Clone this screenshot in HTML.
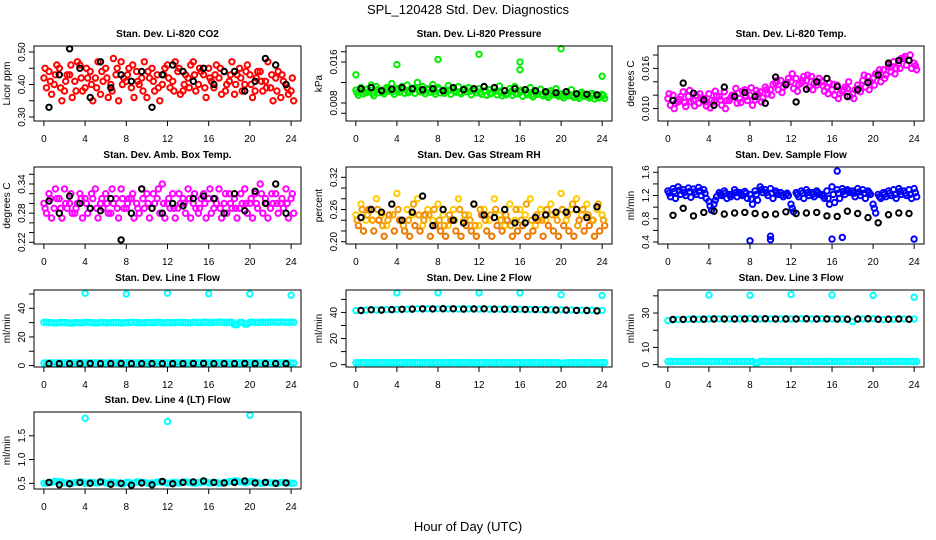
<!DOCTYPE html>
<html><head><meta charset="utf-8">
<style>
html,body{margin:0;padding:0;background:#fff;}
svg{display:block;font-family:"Liberation Sans",Arial,sans-serif;}
.tk{font-size:10px;fill:#000;}
.ti{font-size:10px;font-weight:bold;fill:#000;}
</style></head>
<body>
<svg id="chart" width="936" height="540" viewBox="0 0 936 540">
<text x="468" y="14" text-anchor="middle" font-size="13">SPL_120428  Std. Dev. Diagnostics</text>
<text x="468" y="531" text-anchor="middle" font-size="13">Hour of Day (UTC)</text>
</svg>
<script>
// ---- data ----
const xTicks = [0,4,8,12,16,20,24];
const co2A = [0.42,0.44,0.40,0.45,0.38,0.43,0.41,0.46,0.39,0.44,0.42,0.37,0.45,0.40,0.43,0.47,0.41,0.39,0.44,0.42,0.36,0.45,0.43,0.40,0.46,0.41,0.44,0.38,0.42,0.47,0.40,0.43,0.45,0.39,0.42,0.44,0.41,0.37,0.45,0.40,0.43,0.38,0.44,0.41,0.39,0.42,0.36,0.40,0.38];
const co2B = [0.39,0.37,0.46,0.35,0.43,0.36,0.47,0.38,0.42,0.35,0.47,0.41,0.36,0.48,0.35,0.42,0.45,0.36,0.40,0.47,0.42,0.38,0.35,0.45,0.39,0.47,0.37,0.43,0.46,0.38,0.44,0.36,0.41,0.46,0.37,0.40,0.47,0.43,0.38,0.46,0.36,0.44,0.38,0.47,0.35,0.44,0.41,0.37,0.35];
const co2C = [0.45,0.41,0.43,0.39,0.41,0.46,0.38,0.42,0.45,0.40,0.39,0.44,0.42,0.38,0.45,0.40,0.43,0.46,0.41,0.38,0.44,0.41,0.39,0.43,0.42,0.38,0.45,0.40,0.39,0.43,0.45,0.39,0.42,0.43,0.45,0.38,0.43,0.40,0.42,0.44,0.40,0.42,0.41,0.39,0.43,0.38,0.43,0.39,0.42];
const co2K = [0.33,0.43,0.51,0.45,0.36,0.47,0.39,0.43,0.41,0.44,0.33,0.43,0.46,0.44,0.41,0.45,0.40,0.44,0.44,0.38,0.41,0.48,0.46,0.40];
const presA = [0.0105,0.011,0.010,0.0115,0.0112,0.0105,0.011,0.0118,0.0108,0.0112,0.0115,0.0106,0.012,0.0112,0.0108,0.0116,0.011,0.0105,0.0114,0.0108,0.0112,0.0106,0.011,0.0104,0.0108,0.0112,0.0106,0.0109,0.0113,0.0104,0.0108,0.0112,0.0101,0.0106,0.011,0.0103,0.0107,0.0099,0.0104,0.0108,0.0098,0.0102,0.0106,0.0097,0.0101,0.0095,0.0099,0.0094,0.0097];
const presB = [0.0095,0.0098,0.0102,0.0094,0.0100,0.0098,0.0103,0.0097,0.0101,0.0099,0.0104,0.0099,0.0102,0.0098,0.0101,0.0097,0.0100,0.0103,0.0097,0.0101,0.0098,0.0102,0.0096,0.0100,0.0097,0.0095,0.0100,0.0096,0.0094,0.0099,0.0095,0.0098,0.0093,0.0096,0.0092,0.0097,0.0094,0.0091,0.0096,0.0093,0.0090,0.0094,0.0091,0.0089,0.0093,0.0090,0.0088,0.0091,0.0089];
const presC = [0.0100,0.0104,0.0107,0.0099,0.0106,0.0102,0.0107,0.0102,0.0105,0.0107,0.0100,0.0109,0.0105,0.0103,0.0106,0.0102,0.0107,0.0099,0.0105,0.0104,0.0101,0.0108,0.0103,0.0105,0.0101,0.0104,0.0098,0.0103,0.0100,0.0096,0.0102,0.0098,0.0105,0.0100,0.0096,0.0101,0.0097,0.0095,0.0100,0.0096,0.0094,0.0098,0.0095,0.0093,0.0097,0.0092,0.0095,0.0090,0.0094];
const presOutX = [0,4,8,12,16,16,20,24];
const presOutY = [0.0135,0.0155,0.0165,0.0175,0.0145,0.0160,0.0186,0.0132];
const presK = [0.0108,0.0110,0.0104,0.0107,0.0110,0.0108,0.0106,0.0108,0.0104,0.0110,0.0106,0.0108,0.0112,0.0110,0.0104,0.0108,0.0106,0.0104,0.0102,0.0100,0.0102,0.0098,0.0097,0.0096];
const tempA = [0.0115,0.012,0.0110,0.0125,0.0118,0.0112,0.0108,0.0115,0.0122,0.0110,0.0118,0.0125,0.0112,0.0120,0.0115,0.0128,0.0120,0.0113,0.0125,0.0132,0.0128,0.0138,0.0142,0.0135,0.0140,0.0145,0.0138,0.0142,0.0148,0.0135,0.0140,0.0132,0.0128,0.0135,0.0125,0.0130,0.0122,0.0135,0.0142,0.0148,0.0145,0.0152,0.0158,0.0165,0.0170,0.0168,0.0175,0.0172,0.0168];
const tempB = [0.0105,0.0108,0.0118,0.0103,0.0110,0.0120,0.0116,0.0104,0.0112,0.0119,0.0105,0.0112,0.0120,0.0108,0.0126,0.0112,0.0105,0.0122,0.0116,0.0122,0.0136,0.0128,0.0132,0.0145,0.0130,0.0136,0.0148,0.0132,0.0138,0.0145,0.0126,0.0138,0.0120,0.0122,0.0132,0.0118,0.0128,0.0125,0.0132,0.0140,0.0152,0.0140,0.0150,0.0155,0.0160,0.0175,0.0165,0.0160,0.0158];
const tempC = [0.0122,0.0100,0.0114,0.0109,0.0127,0.0104,0.0122,0.0110,0.0101,0.0126,0.0113,0.0100,0.0116,0.0130,0.0109,0.0118,0.0131,0.0127,0.0110,0.0128,0.0120,0.0142,0.0124,0.0139,0.0152,0.0126,0.0142,0.0150,0.0128,0.0140,0.0134,0.0122,0.0136,0.0115,0.0128,0.0140,0.0115,0.0130,0.0150,0.0128,0.0135,0.0158,0.0145,0.0162,0.0152,0.0160,0.0178,0.0180,0.0164];
const tempK = [0.0112,0.0138,0.0123,0.0113,0.0105,0.0132,0.0118,0.0124,0.0118,0.0108,0.0147,0.0136,0.0110,0.0129,0.0140,0.0145,0.0133,0.0118,0.0128,0.0139,0.0150,0.0168,0.0172,0.0172];
const ambA = [0.30,0.32,0.29,0.31,0.33,0.30,0.28,0.32,0.31,0.29,0.33,0.30,0.32,0.28,0.31,0.33,0.29,0.31,0.30,0.33,0.32,0.29,0.31,0.34,0.30,0.32,0.29,0.31,0.33,0.30,0.28,0.32,0.31,0.29,0.33,0.30,0.32,0.31,0.29,0.33,0.30,0.32,0.34,0.31,0.29,0.32,0.30,0.33,0.31];
const ambB = [0.28,0.27,0.31,0.27,0.29,0.28,0.30,0.27,0.28,0.31,0.27,0.29,0.28,0.30,0.27,0.29,0.31,0.27,0.28,0.29,0.27,0.30,0.28,0.27,0.29,0.27,0.30,0.28,0.27,0.29,0.31,0.27,0.28,0.30,0.27,0.28,0.29,0.27,0.30,0.28,0.27,0.29,0.28,0.27,0.30,0.28,0.29,0.27,0.28];
const ambC = [0.29,0.31,0.33,0.29,0.30,0.32,0.29,0.31,0.30,0.32,0.29,0.31,0.30,0.33,0.29,0.31,0.30,0.32,0.29,0.31,0.30,0.32,0.33,0.30,0.31,0.29,0.32,0.30,0.31,0.32,0.29,0.30,0.33,0.31,0.29,0.32,0.30,0.29,0.32,0.30,0.31,0.30,0.32,0.30,0.32,0.30,0.31,0.30,0.32];
const ambK = [0.305,0.28,0.315,0.30,0.29,0.285,0.31,0.225,0.28,0.33,0.29,0.28,0.30,0.295,0.31,0.315,0.31,0.28,0.32,0.285,0.325,0.30,0.34,0.28];
const rhA = [0.25,0.27,0.24,0.26,0.28,0.25,0.23,0.27,0.29,0.24,0.26,0.25,0.28,0.23,0.26,0.24,0.27,0.25,0.23,0.26,0.28,0.24,0.25,0.27,0.23,0.26,0.24,0.28,0.25,0.23,0.27,0.24,0.26,0.25,0.28,0.23,0.26,0.24,0.27,0.25,0.29,0.24,0.26,0.28,0.25,0.27,0.24,0.26,0.25];
const rhB = [0.23,0.22,0.26,0.22,0.24,0.21,0.25,0.22,0.24,0.22,0.21,0.23,0.22,0.25,0.21,0.23,0.22,0.21,0.24,0.22,0.21,0.23,0.22,0.21,0.25,0.22,0.21,0.23,0.22,0.24,0.21,0.22,0.23,0.21,0.22,0.24,0.21,0.23,0.22,0.21,0.23,0.22,0.21,0.24,0.22,0.23,0.21,0.22,0.23];
const rhC = [0.24,0.26,0.25,0.24,0.26,0.23,0.24,0.25,0.26,0.23,0.24,0.27,0.25,0.24,0.25,0.26,0.24,0.23,0.25,0.24,0.26,0.25,0.24,0.23,0.26,0.24,0.25,0.26,0.24,0.25,0.23,0.26,0.24,0.27,0.24,0.25,0.24,0.26,0.25,0.24,0.26,0.25,0.27,0.23,0.26,0.25,0.24,0.27,0.24];
const rhK = [0.245,0.26,0.255,0.27,0.24,0.255,0.285,0.23,0.26,0.24,0.235,0.27,0.25,0.245,0.26,0.235,0.235,0.245,0.25,0.255,0.255,0.26,0.245,0.265];
const flowA = [1.28,1.32,1.35,1.30,1.33,1.31,1.34,1.30,1.10,1.05,1.25,1.28,1.22,1.30,1.25,1.27,1.22,1.28,1.35,1.30,1.32,1.28,1.25,1.22,1.05,1.25,1.28,1.30,1.25,1.28,1.22,1.28,1.35,1.30,1.32,1.30,1.28,1.32,1.30,1.28,1.05,1.22,1.25,1.28,1.30,1.32,1.28,1.30,1.32];
const flowB = [1.18,1.15,1.22,1.20,1.17,1.22,1.20,1.15,0.95,1.18,1.20,1.15,1.22,1.18,1.20,1.15,1.05,1.12,1.25,1.20,1.15,1.22,1.18,1.20,0.92,1.18,1.15,1.20,1.18,1.22,1.15,1.05,1.08,1.15,1.22,1.25,1.18,1.20,1.15,1.22,0.90,1.15,1.18,1.20,1.15,1.22,1.20,1.15,1.18];
const flowC = [1.24,1.27,1.29,1.25,1.27,1.26,1.28,1.24,1.02,1.12,1.22,1.24,1.18,1.25,1.22,1.24,1.14,1.22,1.30,1.25,1.24,1.25,1.21,1.24,0.98,1.22,1.24,1.25,1.22,1.25,1.19,1.15,1.22,1.24,1.27,1.28,1.24,1.26,1.24,1.25,0.98,1.18,1.22,1.24,1.22,1.27,1.24,1.22,1.25];
const flowOutX = [8,10,10,16,16.5,17,24];
const flowOutY = [0.42,0.50,0.44,0.45,1.62,0.48,0.45];
const flowK = [0.86,0.98,0.85,0.91,0.93,0.88,0.90,0.91,0.89,0.87,0.88,0.92,0.89,0.90,0.91,0.85,0.84,0.93,0.89,0.82,0.73,0.87,0.90,0.89];
const l1A = [30.2,30.0,29.8,30.1,30.0,29.7,30.0,29.9,30.2,30.0,29.8,30.1,29.9,30.0,30.1,29.8,30.0,30.2,30.0,29.9,30.1,30.0,30.2,29.9,30.1,30.0,30.2,30.1,29.9,30.2,30.0,30.3,30.1,30.2,30.4,30.1,30.3,28.5,30.2,29.0,30.4,30.1,30.3,30.2,30.5,30.3,30.4,30.2,30.3];
const l1B = [1.8,1.9,1.8,1.8,1.9,1.8,1.8,1.9,1.8,1.8,1.9,1.8,1.8,1.9,1.8,1.8,1.9,1.8,1.8,1.9,1.8,1.8,1.9,1.8,1.8,1.9,1.8,1.8,1.9,1.8,1.8,1.9,1.8,1.8,1.9,1.8,1.8,1.9,1.8,1.8,1.9,1.8,1.8,1.9,1.8,1.8,1.9,1.8,1.8];
const l1K = [1.4,1.4,1.4,1.4,1.5,1.4,1.4,1.5,1.4,1.4,1.4,1.4,1.4,1.4,1.5,1.5,1.4,1.4,1.4,1.5,1.4,1.4,1.4,1.4];
const l1OutX = [4,8,12,16,20,24];
const l1OutY = [50.5,50.0,50.5,50.2,50.0,49.2];
const l2A = [41.5,41.6,41.8,42.0,41.9,42.1,42.2,42.0,42.3,42.5,42.4,42.6,42.8,42.6,42.9,42.7,42.8,42.9,42.7,42.8,42.6,42.9,42.7,42.8,42.6,42.7,42.5,42.6,42.4,42.6,42.5,42.3,42.4,42.2,42.3,42.1,42.2,42.0,42.1,41.9,42.0,41.8,41.9,41.7,41.8,41.6,41.7,41.5,41.5];
const l2B = [1.5,1.6,1.5,1.5,1.6,1.5,1.5,1.6,1.5,1.5,1.6,1.5,1.5,1.6,1.5,1.5,1.6,1.5,1.5,1.6,1.5,1.5,1.6,1.5,1.5,1.6,1.5,1.5,1.6,1.5,1.5,1.6,1.5,1.5,1.6,1.5,1.5,1.6,1.5,1.5,1.0,1.5,1.6,1.5,1.5,1.6,1.5,1.5,1.6];
const l2K = [41.5,42.0,41.8,42.2,42.4,42.6,42.8,42.7,42.9,42.8,42.6,42.7,42.8,42.6,42.5,42.4,42.3,42.3,42.0,41.9,41.8,41.6,41.5,41.2];
const l2OutX = [4,8,12,16,20,24];
const l2OutY = [55.0,55.0,55.0,55.0,53.5,53.0];
const l3A = [25.6,26.0,26.2,26.3,26.4,26.5,26.4,26.6,26.5,26.7,26.6,26.5,26.6,26.7,26.5,26.6,26.8,26.6,26.5,26.7,26.6,26.5,26.6,26.7,26.5,26.6,26.7,26.6,26.5,26.6,26.7,26.5,26.6,26.4,26.5,26.6,25.0,26.4,26.6,26.5,26.7,26.4,26.2,26.5,26.4,26.6,26.5,26.4,26.5];
const l3B = [1.8,1.8,1.8,1.8,1.8,1.8,1.8,1.8,1.8,1.8,1.8,1.8,1.8,1.8,1.8,1.8,1.8,1.0,1.8,1.8,1.8,1.8,1.8,1.8,1.8,1.8,1.8,1.8,1.8,1.8,1.8,1.8,1.8,1.8,1.8,1.8,1.8,1.8,1.8,1.8,1.8,1.8,1.8,1.8,1.8,1.8,1.8,1.8,1.8];
const l3K = [26.3,26.3,26.4,26.4,26.5,26.6,26.5,26.6,26.5,26.7,26.6,26.5,26.6,26.7,26.5,26.6,26.5,26.4,26.5,26.7,26.4,26.4,26.5,26.4];
const l3OutX = [4,8,12,16,20,24];
const l3OutY = [40.5,40.3,40.8,40.5,40.2,39.2];
const l4A = [0.50,0.52,0.54,0.53,0.51,0.50,0.52,0.53,0.50,0.52,0.51,0.53,0.50,0.52,0.51,0.49,0.52,0.50,0.53,0.52,0.50,0.51,0.53,0.52,0.50,0.52,0.51,0.53,0.52,0.50,0.52,0.53,0.51,0.52,0.50,0.52,0.54,0.55,0.53,0.52,0.54,0.52,0.50,0.52,0.51,0.50,0.52,0.51,0.50];
const l4K = [0.52,0.47,0.49,0.52,0.50,0.53,0.48,0.50,0.46,0.51,0.47,0.54,0.49,0.52,0.53,0.55,0.52,0.51,0.52,0.55,0.51,0.52,0.50,0.51];
const l4OutX = [4,12,20];
const l4OutY = [1.87,1.80,1.93];

// ---- layout ----
const NS = 'http://www.w3.org/2000/svg';
const svg = document.getElementById('chart');
const cols = [[34,301],[346,612],[658,924]];
const rows = [[46,121],[167,244],[290,367],[412,489]];
function mk(tag, attrs, parent){
  const e = document.createElementNS(NS, tag);
  for (const k in attrs) e.setAttribute(k, attrs[k]);
  (parent||svg).appendChild(e);
  return e;
}
const panels = [
 {slug:'co2',title:'Stan. Dev. Li-820 CO2',ylab:'Licor ppm',c:0,r:0,lo:0.2877,hi:0.5185,ticks:[0.30,0.35,0.40,0.45,0.50],labs:[0.30,0.40,0.50],dec:2,
  series:[{x0:0,dx:0.5,y:co2A,col:'#ff0000'},{x0:0.25,dx:0.5,y:co2B,col:'#ff0000'},{x0:0.12,dx:0.5,y:co2C,col:'#ff0000'},{x0:0.5,dx:1,y:co2K,col:'#000'}]},
 {slug:'pressure',title:'Stan. Dev. Li-820 Pressure',ylab:'kPa',c:1,r:0,lo:0.00449,hi:0.01912,ticks:[0.006,0.008,0.012,0.016,0.018],labs:[0.008,0.016],dec:3,
  series:[{x0:0,dx:0.5,y:presA,col:'#00ee00'},{x0:0.25,dx:0.5,y:presB,col:'#00ee00'},{x0:0.12,dx:0.5,y:presC,col:'#00ee00'},{xs:presOutX,y:presOutY,col:'#00ee00'},{x0:0.5,dx:1,y:presK,col:'#000'}]},
 {slug:'temp',title:'Stan. Dev. Li-820 Temp.',ylab:'degrees C',c:2,r:0,lo:0.00814,hi:0.01935,ticks:[0.010,0.012,0.014,0.016,0.018],labs:[0.010,0.016],dec:3,
  series:[{x0:0,dx:0.5,y:tempA,col:'#ff00ff'},{x0:0.25,dx:0.5,y:tempB,col:'#ff00ff'},{x0:0.12,dx:0.5,y:tempC,col:'#ff00ff'},{x0:0.5,dx:1,y:tempK,col:'#000'}]},
 {slug:'amb-box',title:'Stan. Dev. Amb. Box Temp.',ylab:'degrees C',c:0,r:1,lo:0.2165,hi:0.375,ticks:[0.22,0.24,0.26,0.28,0.30,0.32,0.34,0.36],labs:[0.22,0.28,0.34],dec:2,
  series:[{x0:0,dx:0.5,y:ambA,col:'#ff00ff'},{x0:0.25,dx:0.5,y:ambB,col:'#ff00ff'},{x0:0.12,dx:0.5,y:ambC,col:'#ff00ff'},{x0:0.5,dx:1,y:ambK,col:'#000'}]},
 {slug:'rh',title:'Stan. Dev. Gas Stream RH',ylab:'percent',c:1,r:1,lo:0.1957,hi:0.3392,ticks:[0.20,0.22,0.24,0.26,0.28,0.30,0.32],labs:[0.20,0.26,0.32],dec:2,
  series:[{x0:0,dx:0.5,y:rhA,col:'#ffcc00'},{x0:0.25,dx:0.5,y:rhB,col:'#ee7700'},{x0:0.12,dx:0.5,y:rhC,col:'#f5a000'},{x0:0.5,dx:1,y:rhK,col:'#000'}]},
 {slug:'sample-flow',title:'Stan. Dev. Sample Flow',ylab:'ml/min',c:2,r:1,lo:0.3657,hi:1.691,ticks:[0.4,0.6,0.8,1.0,1.2,1.4,1.6],labs:[0.4,0.8,1.2,1.6],dec:1,
  series:[{x0:0,dx:0.5,y:flowA,col:'#0000ff'},{x0:0.25,dx:0.5,y:flowB,col:'#0000ff'},{x0:0.12,dx:0.5,y:flowC,col:'#0000ff'},{xs:flowOutX,y:flowOutY,col:'#0000ff'},{x0:0.5,dx:1,y:flowK,col:'#000'}]},
 {slug:'line1',title:'Stan. Dev. Line 1 Flow',ylab:'ml/min',c:0,r:2,lo:-1.0,hi:52.8,ticks:[0,10,20,30,40,50],labs:[0,20,40],dec:0,
  series:[{x0:0,dx:0.5,y:l1A,col:'#00ffff'},{x0:0.25,dx:0.5,y:l1A,col:'#00ffff'},{x0:0,dx:0.5,y:l1B,col:'#00ffff'},{x0:0.25,dx:0.5,y:l1B,col:'#00ffff'},{xs:l1OutX,y:l1OutY,col:'#00ffff'},{x0:0.5,dx:1,y:l1K,col:'#000'}]},
 {slug:'line2',title:'Stan. Dev. Line 2 Flow',ylab:'ml/min',c:1,r:2,lo:-1.8,hi:57.2,ticks:[0,10,20,30,40,50],labs:[0,20,40],dec:0,
  series:[{x0:0,dx:0.5,y:l2A,col:'#00ffff'},{x0:0,dx:0.5,y:l2B,col:'#00ffff'},{x0:0.25,dx:0.5,y:l2B,col:'#00ffff'},{xs:l2OutX,y:l2OutY,col:'#00ffff'},{x0:0.5,dx:1,y:l2K,col:'#000'}]},
 {slug:'line3',title:'Stan. Dev. Line 3 Flow',ylab:'ml/min',c:2,r:2,lo:-1.4,hi:43.4,ticks:[0,10,20,30,40],labs:[0,10,30],dec:0,
  series:[{x0:0,dx:0.5,y:l3A,col:'#00ffff'},{x0:0,dx:0.5,y:l3B,col:'#00ffff'},{x0:0.25,dx:0.5,y:l3B,col:'#00ffff'},{xs:l3OutX,y:l3OutY,col:'#00ffff'},{x0:0.5,dx:1,y:l3K,col:'#000'}]},
 {slug:'line4',title:'Stan. Dev. Line 4 (LT) Flow',ylab:'ml/min',c:0,r:3,lo:0.381,hi:2.0,ticks:[0.5,1.0,1.5],labs:[0.5,1.0,1.5],dec:1,
  series:[{x0:0,dx:0.5,y:l4A,col:'#00ffff'},{x0:0.25,dx:0.5,y:l4A,col:'#00ffff'},{xs:l4OutX,y:l4OutY,col:'#00ffff'},{x0:0.5,dx:1,y:l4K,col:'#000'}]}
];

panels.forEach(p => {
  const [L,R] = cols[p.c], [T,B] = rows[p.r];
  const W = R-L;
  const xs = v => L + W*(0.04/1.08) + v*(W/1.08)/24;
  const ys = v => B - (v-p.lo)/(p.hi-p.lo)*(B-T);
  const g = mk('g',{});
  
  
  const t = mk('text',{x:(L+R)/2,y:T-9,'text-anchor':'middle','class':'ti'},g);
  t.textContent = p.title;
  
  
  const pg = mk('g',{fill:'none','stroke-width':'2'},g);
  
  
  p.series.forEach(s => {
    s.y.forEach((v,i) => {
      const xv = s.xs ? s.xs[i] : s.x0 + i*s.dx;
      const c = mk('circle',{cx:xs(xv).toFixed(1),cy:ys(v).toFixed(1),r:2.7,stroke:s.col},pg);
      
      
    });
  });
  const bx = mk('rect',{x:L,y:T,width:W,height:B-T,fill:'none',stroke:'#000','stroke-width':1},g);
  
  
  const xa = mk('g',{stroke:'#000','stroke-width':1},g);
  
  
  mk('line',{x1:xs(xTicks[0]),x2:xs(xTicks[xTicks.length-1]),y1:B,y2:B},xa);
  xTicks.forEach(v => {
    mk('line',{x1:xs(v),x2:xs(v),y1:B,y2:B+5},xa);
    const tl = mk('text',{x:xs(v),y:B+21,'text-anchor':'middle','class':'tk',stroke:'none'},g);
    tl.textContent = v;
    
    
  });
  const ya = mk('g',{stroke:'#000','stroke-width':1},g);
  
  
  mk('line',{x1:L,x2:L,y1:ys(p.ticks[0]),y2:ys(p.ticks[p.ticks.length-1])},ya);
  p.ticks.forEach(v => mk('line',{x1:L-5,x2:L,y1:ys(v),y2:ys(v)},ya));
  p.labs.forEach(v => {
    const yy = ys(v), xx = L-9;
    const tl = mk('text',{x:xx,y:yy,'text-anchor':'middle','class':'tk',transform:`rotate(-90 ${xx} ${yy})`},g);
    tl.textContent = v.toFixed(p.dec);
    
    
  });
  const yx = L-24, yy = (T+B)/2;
  const yl = mk('text',{x:yx,y:yy,'text-anchor':'middle','class':'tk',transform:`rotate(-90 ${yx} ${yy})`},g);
  yl.textContent = p.ylab;
  
  
});
</script>
</body></html>
